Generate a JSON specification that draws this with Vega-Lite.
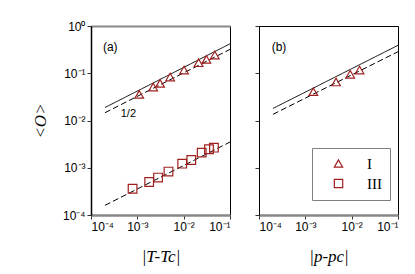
{
  "$schema": "https://vega.github.io/schema/vega-lite/v6.json",
  "padding": {"left": 30, "top": 19, "right": 5, "bottom": 5},
  "spacing": 21,
  "resolve": {"scale": {"shape": "independent", "strokeDash": "independent"}, "legend": {"shape": "independent", "strokeDash": "independent"}},
  "datasets": {
    "points": [
      {"panel": "a", "series": "I", "x": 0.0011, "y": 0.0358},
      {"panel": "a", "series": "I", "x": 0.0022, "y": 0.051},
      {"panel": "a", "series": "I", "x": 0.0031, "y": 0.061},
      {"panel": "a", "series": "I", "x": 0.0051, "y": 0.083},
      {"panel": "a", "series": "I", "x": 0.0102, "y": 0.117},
      {"panel": "a", "series": "I", "x": 0.021, "y": 0.167},
      {"panel": "a", "series": "I", "x": 0.031, "y": 0.197},
      {"panel": "a", "series": "I", "x": 0.047, "y": 0.243},
      {"panel": "a", "series": "III", "x": 0.00079, "y": 0.00036},
      {"panel": "a", "series": "III", "x": 0.0018, "y": 0.0005},
      {"panel": "a", "series": "III", "x": 0.0028, "y": 0.00062},
      {"panel": "a", "series": "III", "x": 0.0047, "y": 0.00083},
      {"panel": "a", "series": "III", "x": 0.0093, "y": 0.00122},
      {"panel": "a", "series": "III", "x": 0.0146, "y": 0.00146},
      {"panel": "a", "series": "III", "x": 0.0245, "y": 0.00209},
      {"panel": "a", "series": "III", "x": 0.0352, "y": 0.00246},
      {"panel": "a", "series": "III", "x": 0.045, "y": 0.00266},
      {"panel": "b", "series": "I", "x": 0.00149, "y": 0.0407},
      {"panel": "b", "series": "I", "x": 0.0046, "y": 0.0653},
      {"panel": "b", "series": "I", "x": 0.0093, "y": 0.095},
      {"panel": "b", "series": "I", "x": 0.0148, "y": 0.117}
    ],
    "lines": [
      {"panel": "a", "line": "a1", "style": "solid", "x": 0.0002, "y": 0.0188},
      {"panel": "a", "line": "a1", "style": "solid", "x": 0.1, "y": 0.42},
      {"panel": "a", "line": "a2", "style": "dashed", "x": 0.0002, "y": 0.0146},
      {"panel": "a", "line": "a2", "style": "dashed", "x": 0.1, "y": 0.32},
      {"panel": "a", "line": "a3", "style": "dashed", "x": 0.0002, "y": 0.00016},
      {"panel": "a", "line": "a3", "style": "dashed", "x": 0.1, "y": 0.0035},
      {"panel": "b", "line": "b1", "style": "solid", "x": 0.0002, "y": 0.018},
      {"panel": "b", "line": "b1", "style": "solid", "x": 0.1, "y": 0.39},
      {"panel": "b", "line": "b2", "style": "dashed", "x": 0.0002, "y": 0.0135},
      {"panel": "b", "line": "b2", "style": "dashed", "x": 0.1, "y": 0.286}
    ],
    "labels": [
      {"panel": "a", "text": "(a)", "x": 0.00026, "y": 0.365, "size": 12},
      {"panel": "a", "text": "1/2", "x": 0.00064, "y": 0.0135, "size": 11},
      {"panel": "b", "text": "(b)", "x": 0.00027, "y": 0.365, "size": 12}
    ]
  },
  "hconcat": [
    {
      "width": 139,
      "height": 189,
      "layer": [
        {
          "data": {"name": "lines"},
          "transform": [{"filter": "datum.panel === 'a'"}],
          "mark": {"type": "line", "color": "black", "strokeWidth": 1},
          "encoding": {
            "x": {"field": "x", "type": "quantitative", "scale": {"type": "log", "domain": [0.0001, 0.1]},
                  "axis": {"orient": "top", "labels": false, "ticks": false, "title": null, "domainColor": "#888888", "domainWidth": 2}},
            "y": {"field": "y", "type": "quantitative", "scale": {"type": "log", "domain": [0.0001, 1]},
                  "axis": {"values": [0.0001, 0.001, 0.01, 0.1, 1], "domainColor": "black", "domainWidth": 1.5,
                           "labelExpr": "datum.value < 0.0005 ? '10⁻⁴' : datum.value < 0.005 ? '10⁻³' : datum.value < 0.05 ? '10⁻²' : datum.value < 0.5 ? '10⁻¹' : '10⁰'",
                           "title": "<O>", "titleFontSize": 17, "titlePadding": 13}},
            "detail": {"field": "line"},
            "strokeDash": {"field": "style", "type": "nominal", "scale": {"domain": ["solid", "dashed"], "range": [[1, 0], [6, 3]]}, "legend": null}
          }
        },
        {
          "data": {"name": "points"},
          "transform": [{"filter": "datum.panel === 'a'"}],
          "mark": {"type": "point", "filled": false, "stroke": "#a02020", "strokeWidth": 1.2, "size": 75, "opacity": 1},
          "encoding": {
            "x": {"field": "x", "type": "quantitative", "scale": {"type": "log", "domain": [0.0001, 0.1]},
                  "axis": {"orient": "bottom", "values": [0.0001, 0.001, 0.01, 0.1], "domainColor": "#888888", "domainWidth": 2.5,
                           "labelExpr": "datum.value < 0.0005 ? '10⁻⁴' : datum.value < 0.005 ? '10⁻³' : datum.value < 0.05 ? '10⁻²' : '10⁻¹'",
                           "title": "|T-Tc|", "titlePadding": 16}},
            "y": {"field": "y", "type": "quantitative", "scale": {"type": "log", "domain": [0.0001, 1]}},
            "shape": {"field": "series", "type": "nominal", "scale": {"domain": ["I", "III"], "range": ["triangle-up", "square"]}, "legend": null}
          }
        },
        {
          "data": {"name": "labels"},
          "transform": [{"filter": "datum.panel === 'a'"}],
          "mark": {"type": "text", "font": "Liberation Sans", "color": "black", "align": "center", "baseline": "middle"},
          "encoding": {
            "x": {"field": "x", "type": "quantitative", "scale": {"type": "log", "domain": [0.0001, 0.1]}, "axis": null},
            "y": {"field": "y", "type": "quantitative", "scale": {"type": "log", "domain": [0.0001, 1]}},
            "text": {"field": "text"},
            "size": {"field": "size", "type": "quantitative", "scale": null}
          }
        }
      ],
      "resolve": {"axis": {"x": "independent"}}
    },
    {
      "width": 139,
      "height": 189,
      "layer": [
        {
          "data": {"name": "lines"},
          "transform": [{"filter": "datum.panel === 'b'"}],
          "mark": {"type": "line", "color": "black", "strokeWidth": 1},
          "encoding": {
            "x": {"field": "x", "type": "quantitative", "scale": {"type": "log", "domain": [0.0001, 0.1]},
                  "axis": {"orient": "bottom", "values": [0.0001, 0.001, 0.01, 0.1], "domainColor": "#888888", "domainWidth": 2.5,
                           "labelExpr": "datum.value < 0.0005 ? '10⁻⁴' : datum.value < 0.005 ? '10⁻³' : datum.value < 0.05 ? '10⁻²' : '10⁻¹'",
                           "title": "|p-pc|", "titlePadding": 16}},
            "y": {"field": "y", "type": "quantitative", "scale": {"type": "log", "domain": [0.0001, 1]},
                  "axis": {"values": [0.0001, 0.001, 0.01, 0.1, 1], "labels": false, "title": null, "domainColor": "black", "domainWidth": 1}},
            "detail": {"field": "line"},
            "strokeDash": {"field": "style", "type": "nominal", "scale": {"domain": ["solid", "dashed"], "range": [[1, 0], [6, 3]]}, "legend": null}
          }
        },
        {
          "data": {"name": "points"},
          "transform": [{"filter": "datum.panel === 'b'"}],
          "mark": {"type": "point", "filled": false, "stroke": "#a02020", "strokeWidth": 1.2, "size": 75, "opacity": 1},
          "encoding": {
            "x": {"field": "x", "type": "quantitative", "scale": {"type": "log", "domain": [0.0001, 0.1]}},
            "y": {"field": "y", "type": "quantitative", "scale": {"type": "log", "domain": [0.0001, 1]}},
            "shape": {"field": "series", "type": "nominal", "scale": {"domain": ["I", "III"], "range": ["triangle-up", "square"]},
                      "legend": {"orient": "none", "legendX": 53, "legendY": 122, "title": null, "padding": 8, "strokeColor": "#808080",
                                 "symbolStrokeColor": "#a02020", "symbolFillColor": "transparent", "symbolStrokeWidth": 1.2, "symbolSize": 70,
                                 "symbolOffset": 11, "labelOffset": 21, "rowPadding": 4,
                                 "labelFont": "Liberation Serif", "labelFontSize": 15, "labelColor": "black"}}
          }
        },
        {
          "data": {"name": "labels"},
          "transform": [{"filter": "datum.panel === 'b'"}],
          "mark": {"type": "text", "font": "Liberation Sans", "color": "black", "align": "center", "baseline": "middle"},
          "encoding": {
            "x": {"field": "x", "type": "quantitative", "scale": {"type": "log", "domain": [0.0001, 0.1]}},
            "y": {"field": "y", "type": "quantitative", "scale": {"type": "log", "domain": [0.0001, 1]}},
            "text": {"field": "text"},
            "size": {"field": "size", "type": "quantitative", "scale": null}
          }
        }
      ]
    }
  ],
  "config": {
    "view": {"stroke": "black", "strokeWidth": 1},
    "axis": {"labelFont": "Liberation Sans", "labelFontSize": 12, "labelColor": "black", "tickColor": "#333333", "tickSize": 4,
             "grid": false, "titleFont": "Liberation Serif", "titleFontStyle": "italic", "titleFontWeight": "normal",
             "titleFontSize": 17, "titleColor": "black", "labelPadding": 2}
  }
}
